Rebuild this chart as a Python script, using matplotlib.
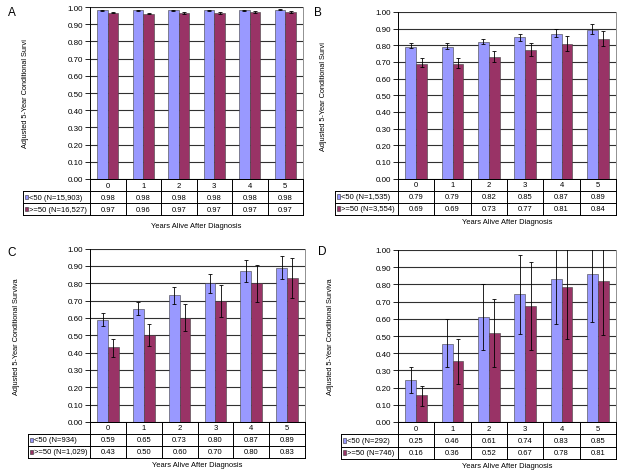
import matplotlib
matplotlib.use("Agg")
import matplotlib.pyplot as plt
from matplotlib.patches import Rectangle
import numpy as np

plt.rcParams['font.family'] = ['Liberation Sans', 'DejaVu Sans']

years = [0, 1, 2, 3, 4, 5]
year_labels = ["0", "1", "2", "3", "4", "5"]

# Panel A
A_lt50 = [0.98, 0.98, 0.98, 0.98, 0.98, 0.98]
A_lt50_lo = [0.977, 0.977, 0.977, 0.977, 0.978, 0.980]
A_lt50_hi = [0.983, 0.983, 0.983, 0.983, 0.984, 0.986]
A_ge50 = [0.967, 0.961, 0.965, 0.966, 0.970, 0.971]
A_ge50_lo = [0.963, 0.957, 0.959, 0.962, 0.965, 0.966]
A_ge50_hi = [0.971, 0.965, 0.971, 0.970, 0.975, 0.976]
A_lt50_txt = ["0.98", "0.98", "0.98", "0.98", "0.98", "0.98"]
A_ge50_txt = ["0.97", "0.96", "0.97", "0.97", "0.97", "0.97"]

# Panel B
B_lt50 = [0.79, 0.79, 0.82, 0.85, 0.87, 0.89]
B_lt50_lo = [0.783, 0.778, 0.808, 0.828, 0.850, 0.870]
B_lt50_hi = [0.812, 0.812, 0.840, 0.870, 0.900, 0.925]
B_ge50 = [0.69, 0.69, 0.73, 0.77, 0.81, 0.84]
B_ge50_lo = [0.670, 0.665, 0.700, 0.735, 0.765, 0.795]
B_ge50_hi = [0.722, 0.722, 0.765, 0.812, 0.855, 0.885]
B_lt50_txt = ["0.79", "0.79", "0.82", "0.85", "0.87", "0.89"]
B_ge50_txt = ["0.69", "0.69", "0.73", "0.77", "0.81", "0.84"]

# Panel C
C_lt50 = [0.59, 0.65, 0.73, 0.80, 0.87, 0.89]
C_lt50_lo = [0.552, 0.614, 0.678, 0.743, 0.807, 0.822]
C_lt50_hi = [0.627, 0.691, 0.780, 0.855, 0.932, 0.958]
C_ge50 = [0.43, 0.50, 0.60, 0.70, 0.80, 0.83]
C_ge50_lo = [0.376, 0.440, 0.523, 0.604, 0.691, 0.714]
C_ge50_hi = [0.479, 0.564, 0.678, 0.790, 0.903, 0.944]
C_lt50_txt = ["0.59", "0.65", "0.73", "0.80", "0.87", "0.89"]
C_ge50_txt = ["0.43", "0.50", "0.60", "0.70", "0.80", "0.83"]

# Panel D
D_lt50 = [0.245, 0.456, 0.612, 0.744, 0.831, 0.858]
D_lt50_lo = [0.171, 0.320, 0.421, 0.511, 0.569, 0.581]
D_lt50_hi = [0.320, 0.596, 0.800, 0.971, 1.090, 1.120]
D_ge50 = [0.155, 0.353, 0.520, 0.674, 0.784, 0.817]
D_ge50_lo = [0.095, 0.223, 0.322, 0.419, 0.485, 0.503]
D_ge50_hi = [0.212, 0.485, 0.718, 0.928, 1.075, 1.117]
D_lt50_txt = ["0.25", "0.46", "0.61", "0.74", "0.83", "0.85"]
D_ge50_txt = ["0.16", "0.36", "0.52", "0.67", "0.78", "0.81"]

COL_LT = '#9999FF'
COL_GE = '#993366'

W, H = 624, 477
fig = plt.figure(figsize=(W / 100, H / 100), dpi=100)

panels = [
    dict(letter="A", L=90, R=303, T=8, B=180, TL=23, TB=216, lx=8, ly=7, ylx=29, xly=227,
         ylabel="Adjusted 5-Year Conditional Survi",
         lt=(A_lt50, A_lt50_lo, A_lt50_hi, A_lt50_txt), ge=(A_ge50, A_ge50_lo, A_ge50_hi, A_ge50_txt),
         names=("<50 (N=15,903)", ">=50 (N=16,527)")),
    dict(letter="B", L=398, R=616, T=13, B=179.5, TL=335, TB=216, lx=314, ly=7, ylx=327, xly=223,
         ylabel="Adjusted 5-Year Conditional Survi",
         lt=(B_lt50, B_lt50_lo, B_lt50_hi, B_lt50_txt), ge=(B_ge50, B_ge50_lo, B_ge50_hi, B_ge50_txt),
         names=("<50 (N=1,535)", ">=50 (N=3,554)")),
    dict(letter="C", L=90, R=305, T=249.5, B=423, TL=28, TB=459, lx=7, ly=247, ylx=20, xly=466,
         ylabel="Adjusted 5-Year Conditional Surviva",
         lt=(C_lt50, C_lt50_lo, C_lt50_hi, C_lt50_txt), ge=(C_ge50, C_ge50_lo, C_ge50_hi, C_ge50_txt),
         names=("<50 (N=934)", ">=50 (N=1,029)")),
    dict(letter="D", L=398, R=616, T=251, B=423, TL=341, TB=460, lx=318, ly=246, ylx=334, xly=467,
         ylabel="Adjusted 5-Year Conditional Surviva",
         lt=(D_lt50, D_lt50_lo, D_lt50_hi, D_lt50_txt), ge=(D_ge50, D_ge50_lo, D_ge50_hi, D_ge50_txt),
         names=("<50 (N=292)", ">=50 (N=746)")),
]

FS_TICK = 5.8
FS = 5.5
x = np.array(years, dtype=float)
bw = 0.3

for p in panels:
    L, R, T, B = p["L"], p["R"], p["T"], p["B"]
    ax = fig.add_axes([L / W, 1 - B / H, (R - L) / W, (B - T) / H])
    ax.set_xlim(-0.5, 5.5)
    ax.set_ylim(0, 1.0)
    ax.set_yticks(np.arange(0, 1.01, 0.1))
    ax.set_yticklabels([f"{v:.2f}" for v in np.arange(0, 1.01, 0.1)], fontsize=FS_TICK)
    ax.set_xticks([])
    ax.yaxis.grid(True, color='#303030', lw=0.8)
    ax.set_axisbelow(True)
    ax.tick_params(axis='y', direction='out', length=3.5, width=0.6, pad=1.5, color='black')
    for s in ['left', 'bottom']:
        ax.spines[s].set_color('black')
        ax.spines[s].set_linewidth(0.7)
    ax.spines['top'].set_visible(False)
    ax.spines['right'].set_color('#909090')
    ax.spines['right'].set_linewidth(0.7)

    for (vals, lo, hi, _), off, col in [(p["lt"], -bw / 2, COL_LT), (p["ge"], bw / 2, COL_GE)]:
        vals = np.array(vals); lo = np.array(lo); hi = np.array(hi)
        ax.bar(x + off, vals, bw, color=col, edgecolor='#404040', linewidth=0.4, zorder=2)
        ax.errorbar(x + off, vals, yerr=[vals - lo, hi - vals], fmt='none', ecolor='black',
                    elinewidth=0.6, capsize=1.7, capthick=0.6, zorder=3)

    ax.set_ylabel(p["ylabel"], fontsize=5.3)
    ax.yaxis.set_label_coords((p["ylx"] - L) / (R - L), 0.5)

    # Table axes
    cw = (R - L) / 6.0
    ext = (L - p["TL"]) / cw
    TB = p["TB"]
    tax = fig.add_axes([p["TL"] / W, 1 - TB / H, (R - p["TL"]) / W, (TB - B) / H])
    tax.set_xlim(-0.5 - ext, 5.5)
    tax.set_ylim(3, 0)
    tax.axis('off')
    lc = 'black'
    lw = 0.7
    tax.plot([-0.5, 5.5], [0, 0], color=lc, lw=lw, clip_on=False)
    for r in (1, 2, 3):
        tax.plot([-0.5 - ext, 5.5], [r, r], color=lc, lw=lw, clip_on=False)
    for k in range(7):
        tax.plot([k - 0.5, k - 0.5], [0, 3], color=lc, lw=lw, clip_on=False)
    tax.plot([-0.5 - ext, -0.5 - ext], [1, 3], color=lc, lw=lw, clip_on=False)
    for k, lab in enumerate(year_labels):
        tax.text(years[k], 0.5, lab, ha='center', va='center', fontsize=FS)
        tax.text(years[k], 1.5, p["lt"][3][k], ha='center', va='center', fontsize=FS)
        tax.text(years[k], 2.5, p["ge"][3][k], ha='center', va='center', fontsize=FS)
    pxu = 1.0 / cw  # data units per pixel
    for row, col, name in [(1, COL_LT, p["names"][0]), (2, COL_GE, p["names"][1])]:
        tax.add_patch(Rectangle((-0.5 - ext + 1.8 * pxu, row + 0.3), 3.6 * pxu, 0.4,
                                facecolor=col, edgecolor='#303030', lw=0.4, clip_on=False))
        tax.text(-0.5 - ext + 6.0 * pxu, row + 0.5, name, ha='left', va='center', fontsize=FS)

    fig.text((L + R) / 2 / W, 1 - p["xly"] / H, "Years Alive After Diagnosis",
             ha='center', va='center', fontsize=5.4)
    fig.text(p["lx"] / W, 1 - p["ly"] / H, p["letter"], ha='left', va='top', fontsize=8.5)

fig.savefig("out.png", dpi=100, facecolor='white')
